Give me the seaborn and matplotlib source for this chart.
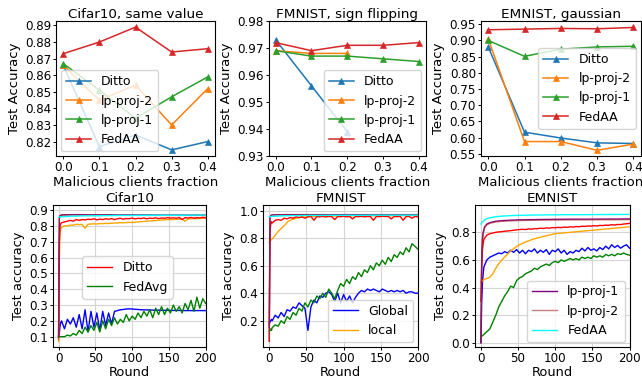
import matplotlib
matplotlib.use("Agg")
import matplotlib.pyplot as plt
import seaborn as sns
import pandas as pd

# ---------------- top row data ----------------
fraction = [0.0, 0.1, 0.2, 0.3, 0.4]

cifar_same_ditto = [0.866, 0.817, 0.824, 0.815, 0.820]
cifar_same_lp2 = [0.866, 0.845, 0.854, 0.830, 0.852]
cifar_same_lp1 = [0.867, 0.851, 0.834, 0.847, 0.859]
cifar_same_fedaa = [0.873, 0.880, 0.889, 0.874, 0.876]
cifar_same_yticks = [0.82, 0.83, 0.84, 0.85, 0.86, 0.87, 0.88, 0.89]

fmnist_flip_ditto = [0.973, 0.956, 0.939]
fmnist_flip_lp2 = [0.969, 0.968, 0.968]
fmnist_flip_lp1 = [0.969, 0.967, 0.967, 0.966, 0.965]
fmnist_flip_fedaa = [0.972, 0.969, 0.971, 0.971, 0.972]
fmnist_flip_yticks = [0.93, 0.94, 0.95, 0.96, 0.97, 0.98]

emnist_gauss_ditto = [0.880, 0.617, 0.599, 0.584, 0.582]
emnist_gauss_lp2 = [0.905, 0.588, 0.588, 0.561, 0.580]
emnist_gauss_lp1 = [0.900, 0.851, 0.873, 0.880, 0.882]
emnist_gauss_fedaa = [0.933, 0.935, 0.937, 0.936, 0.940]
emnist_gauss_yticks = [0.55, 0.60, 0.65, 0.70, 0.75, 0.80, 0.85, 0.90, 0.95]

# ---------------- bottom row data ----------------
rounds_fine = [0, 1, 2, 3] + list(range(4, 201, 4))
rounds_smooth = [0, 1, 2, 3, 5, 8, 12, 16, 20, 25, 30, 40, 50, 60, 70, 80,
                 100, 120, 140, 160, 180, 200]
round_ticks = [0, 50, 100, 150, 200]

# Cifar10
cifar_global = [0.10, 0.12, 0.17, 0.19,
                0.20, 0.15, 0.21, 0.18, 0.22, 0.16, 0.24, 0.15, 0.27, 0.13,
                0.26, 0.16, 0.25, 0.14, 0.26, 0.17, 0.25, 0.18, 0.26, 0.265,
                0.270, 0.272, 0.275, 0.276, 0.275, 0.273, 0.272, 0.270, 0.270, 0.269,
                0.269, 0.268, 0.268, 0.268, 0.267, 0.267, 0.267, 0.266, 0.266, 0.266,
                0.266, 0.266, 0.265, 0.265, 0.265, 0.265, 0.265, 0.265, 0.265, 0.265]
cifar_local = [0.07, 0.60, 0.76, 0.78,
               0.790, 0.800, 0.800, 0.805, 0.805, 0.810, 0.808, 0.810, 0.785, 0.810,
               0.812, 0.813, 0.812, 0.815, 0.814, 0.816, 0.815, 0.817, 0.818, 0.818,
               0.820, 0.820, 0.821, 0.822, 0.822, 0.824, 0.825, 0.826, 0.828, 0.830,
               0.831, 0.833, 0.834, 0.836, 0.837, 0.838, 0.840, 0.840, 0.841, 0.842,
               0.842, 0.843, 0.830, 0.844, 0.845, 0.846, 0.846, 0.847, 0.848, 0.848]
cifar_ditto = [0.10, 0.70, 0.80, 0.815,
               0.820, 0.825, 0.830, 0.835, 0.830, 0.840, 0.835, 0.840, 0.838, 0.842,
               0.840, 0.845, 0.838, 0.843, 0.840, 0.845, 0.842, 0.846, 0.840, 0.845,
               0.848, 0.842, 0.847, 0.845, 0.850, 0.844, 0.848, 0.846, 0.850, 0.845,
               0.849, 0.847, 0.851, 0.846, 0.850, 0.848, 0.852, 0.849, 0.851, 0.848,
               0.853, 0.840, 0.852, 0.850, 0.853, 0.849, 0.852, 0.850, 0.854, 0.852]
cifar_fedavg = [0.10, 0.10, 0.10, 0.10,
                0.10, 0.10, 0.11, 0.105, 0.12, 0.11, 0.14, 0.12, 0.16, 0.13,
                0.17, 0.14, 0.19, 0.13, 0.20, 0.15, 0.21, 0.17, 0.22, 0.18,
                0.21, 0.19, 0.24, 0.20, 0.23, 0.21, 0.25, 0.22, 0.26, 0.23,
                0.27, 0.22, 0.28, 0.24, 0.29, 0.24, 0.28, 0.25, 0.30, 0.26,
                0.29, 0.25, 0.31, 0.27, 0.33, 0.26, 0.35, 0.28, 0.34, 0.31]
cifar_lp1 = [0.10, 0.85, 0.865, 0.868, 0.870, 0.870, 0.870, 0.871, 0.871, 0.871, 0.871,
             0.870, 0.870, 0.870, 0.870, 0.869, 0.869, 0.869, 0.868, 0.868, 0.868, 0.868]
cifar_lp2 = [0.08, 0.84, 0.862, 0.866, 0.867, 0.868, 0.868, 0.869, 0.869, 0.869, 0.869,
             0.868, 0.868, 0.868, 0.867, 0.867, 0.867, 0.866, 0.866, 0.866, 0.866, 0.866]
cifar_fedaa = [0.855, 0.856, 0.857, 0.858, 0.858, 0.859, 0.860, 0.861, 0.862, 0.862, 0.863,
               0.864, 0.864, 0.865, 0.865, 0.866, 0.866, 0.867, 0.867, 0.867, 0.868, 0.868]
cifar_yticks = [0.1, 0.2, 0.3, 0.4, 0.5, 0.6, 0.7, 0.8, 0.9]

# FMNIST
fmnist_global = [0.18, 0.19, 0.20, 0.21,
                 0.20, 0.24, 0.22, 0.26, 0.23, 0.28, 0.27, 0.30, 0.29, 0.33,
                 0.31, 0.29, 0.13, 0.30, 0.35, 0.33, 0.38, 0.37, 0.40, 0.41,
                 0.39, 0.34, 0.40, 0.33, 0.39, 0.34, 0.38, 0.33, 0.37, 0.40,
                 0.42, 0.41, 0.43, 0.42, 0.43, 0.42, 0.41, 0.43, 0.42, 0.41,
                 0.42, 0.41, 0.42, 0.41, 0.42, 0.40, 0.41, 0.41, 0.40, 0.40]
fmnist_local = [0.77, 0.78, 0.785, 0.79, 0.80, 0.82, 0.85, 0.87, 0.89, 0.92, 0.935,
                0.95, 0.955, 0.958, 0.96, 0.96, 0.962, 0.963, 0.963, 0.964, 0.964, 0.965]
fmnist_ditto = [0.05, 0.85, 0.90, 0.92,
                0.910, 0.930, 0.935, 0.930, 0.945, 0.940, 0.950, 0.945, 0.955, 0.950,
                0.955, 0.945, 0.955, 0.958, 0.930, 0.957, 0.955, 0.958, 0.954, 0.958,
                0.956, 0.935, 0.958, 0.956, 0.959, 0.955, 0.958, 0.940, 0.958, 0.956,
                0.959, 0.955, 0.958, 0.957, 0.930, 0.958, 0.956, 0.959, 0.957, 0.958,
                0.940, 0.958, 0.956, 0.959, 0.930, 0.957, 0.958, 0.945, 0.958, 0.955]
fmnist_fedavg = [0.12, 0.13, 0.14, 0.13,
                 0.15, 0.17, 0.16, 0.20, 0.18, 0.23, 0.21, 0.26, 0.24, 0.29,
                 0.27, 0.33, 0.30, 0.35, 0.33, 0.38, 0.36, 0.40, 0.37, 0.43,
                 0.40, 0.36, 0.42, 0.47, 0.45, 0.50, 0.47, 0.52, 0.50, 0.55,
                 0.52, 0.57, 0.55, 0.60, 0.57, 0.62, 0.60, 0.64, 0.61, 0.66,
                 0.63, 0.68, 0.66, 0.70, 0.68, 0.73, 0.70, 0.76, 0.74, 0.72]
fmnist_lp1 = [0.15, 0.95, 0.965, 0.968, 0.969, 0.970, 0.970, 0.970, 0.971, 0.971, 0.971,
              0.971, 0.971, 0.971, 0.971, 0.971, 0.971, 0.971, 0.971, 0.971, 0.971, 0.971]
fmnist_lp2 = [0.05, 0.94, 0.962, 0.966, 0.967, 0.968, 0.969, 0.969, 0.969, 0.970, 0.970,
              0.970, 0.970, 0.970, 0.970, 0.970, 0.970, 0.970, 0.970, 0.970, 0.970, 0.970]
fmnist_fedaa = [0.955, 0.956, 0.957, 0.958, 0.959, 0.960, 0.961, 0.962, 0.963, 0.963, 0.964,
                0.964, 0.965, 0.965, 0.965, 0.966, 0.966, 0.966, 0.967, 0.967, 0.967, 0.967]
fmnist_yticks = [0.2, 0.4, 0.6, 0.8, 1.0]

# EMNIST
emnist_global = [0.00, 0.30, 0.43, 0.50,
                 0.55, 0.60, 0.62, 0.63, 0.64, 0.65, 0.645, 0.66, 0.65, 0.67,
                 0.655, 0.675, 0.65, 0.67, 0.645, 0.67, 0.66, 0.68, 0.65, 0.67,
                 0.655, 0.675, 0.64, 0.67, 0.66, 0.68, 0.65, 0.67, 0.64, 0.66,
                 0.65, 0.67, 0.66, 0.685, 0.665, 0.69, 0.67, 0.68, 0.665, 0.69,
                 0.675, 0.70, 0.68, 0.71, 0.69, 0.705, 0.685, 0.70, 0.71, 0.685]
emnist_local = [0.44, 0.44, 0.45, 0.455, 0.46, 0.465, 0.475, 0.50, 0.54, 0.58, 0.61,
                0.665, 0.705, 0.73, 0.75, 0.765, 0.79, 0.80, 0.81, 0.82, 0.83, 0.84]
emnist_ditto = [0.30, 0.55, 0.67, 0.72,
                0.750, 0.780, 0.790, 0.795, 0.800, 0.803, 0.805, 0.808, 0.810, 0.812,
                0.815, 0.818, 0.820, 0.822, 0.820, 0.825, 0.823, 0.827, 0.826, 0.830,
                0.828, 0.832, 0.830, 0.834, 0.833, 0.836, 0.834, 0.838, 0.836, 0.840,
                0.838, 0.842, 0.840, 0.844, 0.843, 0.846, 0.845, 0.848, 0.846, 0.850,
                0.849, 0.852, 0.851, 0.855, 0.853, 0.857, 0.856, 0.860, 0.862, 0.865]
emnist_fedavg = [0.04, 0.05, 0.05, 0.055,
                 0.06, 0.08, 0.10, 0.15, 0.20, 0.26, 0.30, 0.34, 0.37, 0.41,
                 0.40, 0.45, 0.47, 0.48, 0.50, 0.51, 0.52, 0.54, 0.53, 0.55,
                 0.56, 0.57, 0.56, 0.58, 0.59, 0.58, 0.60, 0.59, 0.60, 0.61,
                 0.60, 0.61, 0.60, 0.62, 0.61, 0.62, 0.61, 0.63, 0.62, 0.63,
                 0.62, 0.64, 0.63, 0.64, 0.63, 0.645, 0.64, 0.65, 0.64, 0.635]
emnist_lp1 = [0.0, 0.6, 0.75, 0.80, 0.84, 0.86, 0.87, 0.875, 0.88, 0.883, 0.885,
              0.888, 0.89, 0.891, 0.892, 0.893, 0.894, 0.895, 0.895, 0.896, 0.896, 0.897]
emnist_lp2 = [0.0, 0.58, 0.74, 0.79, 0.835, 0.855, 0.865, 0.87, 0.875, 0.878, 0.88,
              0.883, 0.885, 0.886, 0.887, 0.888, 0.889, 0.89, 0.89, 0.891, 0.891, 0.892]
emnist_fedaa = [0.86, 0.87, 0.875, 0.88, 0.89, 0.90, 0.905, 0.91, 0.913, 0.916, 0.918,
                0.921, 0.923, 0.924, 0.925, 0.926, 0.927, 0.928, 0.928, 0.929, 0.929, 0.93]
emnist_yticks = [0.0, 0.2, 0.4, 0.6, 0.8]

# ---------------- styling ----------------
TOP_COLORS = {"Ditto": "#1f77b4", "lp-proj-2": "#ff7f0e",
              "lp-proj-1": "#2ca02c", "FedAA": "#d62728"}
BOT_COLORS = {"Global": "blue", "local": "orange", "Ditto": "red",
              "FedAvg": "green", "lp-proj-1": "purple", "lp-proj-2": "brown",
              "FedAA": "cyan"}
BOT_ALPHA = {"lp-proj-2": 0.6}

LABEL_FS = 9.5
TITLE_FS = 9.7
TICK_FS = 8.6
LEG_FS = 9.0

plt.rcParams.update({
    "xtick.major.size": 2.2, "ytick.major.size": 2.2,
    "xtick.major.pad": 1.4, "ytick.major.pad": 1.4,
    "xtick.major.width": 0.7, "ytick.major.width": 0.7,
    "axes.linewidth": 0.8,
    "axes.titlepad": 2.5,
    "legend.borderaxespad": 0.4,
})

W, H = 642, 379
fig = plt.figure(figsize=(W / 100, H / 100), dpi=100)


def px_axes(left, top, right, bottom):
    return fig.add_axes([left / W, 1 - bottom / H, (right - left) / W, (bottom - top) / H])


def top_panel(ax, title, series, yticks, legend_kw, ylim=None):
    for name, vals in series:
        c = TOP_COLORS[name]
        df = pd.DataFrame({"fraction": fraction[:len(vals)], "acc": vals})
        sns.lineplot(data=df, x="fraction", y="acc", ax=ax, color=c, lw=1.1,
                     marker="^", markersize=5, markeredgecolor=c,
                     markeredgewidth=0.5, label=name, legend=False)
    ax.set_yticks(yticks)
    if ylim is not None:
        ax.set_ylim(*ylim)
    ax.set_xticks(fraction)
    ax.set_title(title, fontsize=TITLE_FS)
    ax.set_xlabel("Malicious clients fraction", fontsize=LABEL_FS, labelpad=1.5)
    ax.set_ylabel("Test Accuracy", fontsize=LABEL_FS, labelpad=3)
    ax.tick_params(labelsize=TICK_FS)
    ax.legend(fontsize=LEG_FS, **legend_kw)


def bottom_panel(ax, title, series, legend_names, legend_kw, ylim, yticks):
    for name, rounds, vals in series:
        df = pd.DataFrame({"round": rounds, "acc": vals})
        sns.lineplot(data=df, x="round", y="acc", ax=ax, color=BOT_COLORS[name],
                     alpha=BOT_ALPHA.get(name, 1.0), lw=1.0, label=name, legend=False)
    handles, labels = ax.get_legend_handles_labels()
    lookup = dict(zip(labels, handles))
    ax.legend([lookup[n] for n in legend_names], legend_names, fontsize=LEG_FS, **legend_kw)
    ax.set_xlim(-8, 200)
    ax.set_xticks(round_ticks)
    ax.set_ylim(*ylim)
    ax.set_yticks(yticks)
    ax.grid(True, color="#d5d5d5", lw=0.8)
    ax.set_axisbelow(True)
    ax.set_title(title, fontsize=TITLE_FS)
    ax.set_xlabel("Round", fontsize=9.4, labelpad=0.5)
    ax.set_ylabel("Test accuracy", fontsize=9.4, labelpad=3)
    ax.tick_params(labelsize=TICK_FS)


def bottom_series(g, lo, di, fa, l1, l2, aa):
    return [("Global", rounds_fine, g), ("local", rounds_smooth if len(lo) == len(rounds_smooth) else rounds_fine, lo),
            ("Ditto", rounds_fine, di), ("FedAvg", rounds_fine, fa),
            ("lp-proj-1", rounds_smooth, l1), ("lp-proj-2", rounds_smooth, l2),
            ("FedAA", rounds_smooth, aa)]


# top row
ax1 = px_axes(56, 21, 215, 156)
top_panel(ax1, "Cifar10, same value",
          [("Ditto", cifar_same_ditto), ("lp-proj-2", cifar_same_lp2),
           ("lp-proj-1", cifar_same_lp1), ("FedAA", cifar_same_fedaa)],
          cifar_same_yticks, dict(loc="lower left"))

ax2 = px_axes(268.5, 21, 426, 156)
top_panel(ax2, "FMNIST, sign flipping",
          [("Ditto", fmnist_flip_ditto), ("lp-proj-2", fmnist_flip_lp2),
           ("lp-proj-1", fmnist_flip_lp1), ("FedAA", fmnist_flip_fedaa)],
          fmnist_flip_yticks, dict(loc="lower right"), ylim=(0.93, 0.98))

ax3 = px_axes(481, 21, 640.5, 155.5)
top_panel(ax3, "EMNIST, gaussian",
          [("Ditto", emnist_gauss_ditto), ("lp-proj-2", emnist_gauss_lp2),
           ("lp-proj-1", emnist_gauss_lp1), ("FedAA", emnist_gauss_fedaa)],
          emnist_gauss_yticks, dict(loc="center right"), ylim=(0.545, 0.960))

# bottom row
ax4 = px_axes(52.7, 205, 205.7, 347)
bottom_panel(ax4, "Cifar10",
             bottom_series(cifar_global, cifar_local, cifar_ditto, cifar_fedavg,
                           cifar_lp1, cifar_lp2, cifar_fedaa),
             ["Ditto", "FedAvg"], dict(loc="center", bbox_to_anchor=(0.49, 0.49)),
             (0.035, 0.932), cifar_yticks)

ax5 = px_axes(263.3, 205, 418, 347)
bottom_panel(ax5, "FMNIST",
             bottom_series(fmnist_global, fmnist_local, fmnist_ditto, fmnist_fedavg,
                           fmnist_lp1, fmnist_lp2, fmnist_fedaa),
             ["Global", "local"], dict(loc="lower right"),
             (0.009, 1.041), fmnist_yticks)

ax6 = px_axes(475, 205, 629.5, 347)
bottom_panel(ax6, "EMNIST",
             bottom_series(emnist_global, emnist_local, emnist_ditto, emnist_fedavg,
                           emnist_lp1, emnist_lp2, emnist_fedaa),
             ["lp-proj-1", "lp-proj-2", "FedAA"], dict(loc="lower right"),
             (-0.031, 0.998), emnist_yticks)

fig.savefig("out.png", dpi=100)
